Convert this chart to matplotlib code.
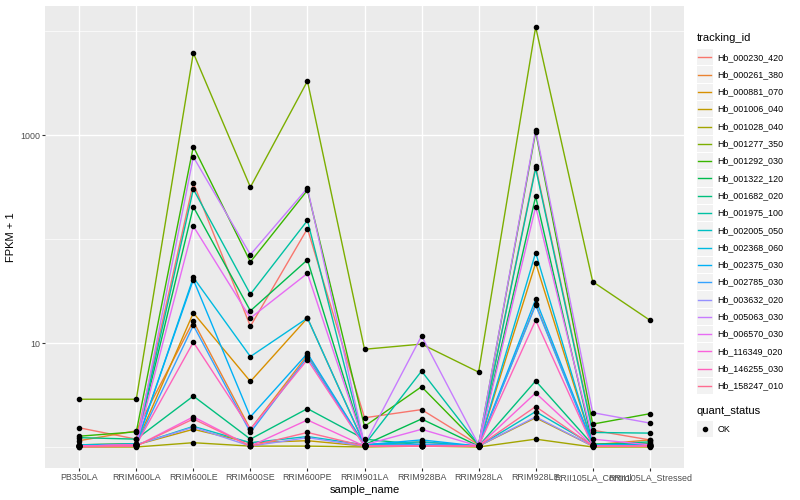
import matplotlib
matplotlib.use("Agg")
import matplotlib.pyplot as plt
from matplotlib.patches import Rectangle
import numpy as np

plt.rcParams["font.family"] = ["Liberation Sans", "DejaVu Sans"]

# samples on the x axis
sample_name = ["PB350LA", "RRIM600LA", "RRIM600LE", "RRIM600SE", "RRIM600PE",
               "RRIM901LA", "RRIM928BA", "RRIM928LA", "RRIM928LE",
               "RRII105LA_Control", "RRII105LA_Stressed"]

tracking_id = ["Hb_000230_420", "Hb_000261_380", "Hb_000881_070", "Hb_001006_040",
               "Hb_001028_040", "Hb_001277_350", "Hb_001292_030", "Hb_001322_120",
               "Hb_001682_020", "Hb_001975_100", "Hb_002005_050", "Hb_002368_060",
               "Hb_002375_030", "Hb_002785_030", "Hb_003632_020", "Hb_005063_030",
               "Hb_006570_030", "Hb_116349_020", "Hb_146255_030", "Hb_158247_010"]

# FPKM + 1 (same order as sample_name)
hb_000230_420 = [1.53, 1.19, 347, 14.5, 126, 1.91, 2.29, 1.05, 501, 1.45, 1.17]
hb_000261_380 = [1.15, 1.43, 16.2, 1.48, 7.67, 1.05, 1.12, 1.02, 23.7, 1.05, 1.17]
hb_000881_070 = [1.05, 1.07, 19.5, 4.27, 17.4, 1.05, 1.02, 1.02, 58.9, 1.05, 1.07]
hb_001006_040 = [1.02, 1.05, 1.48, 1.10, 1.15, 1.02, 1.02, 1.02, 1.91, 1.02, 1.05]
hb_001028_040 = [1.00, 1.00, 1.10, 1.02, 1.02, 1.00, 1.02, 1.00, 1.19, 1.00, 1.00]
hb_001277_350 = [2.88, 2.88, 6170, 316, 3310, 8.71, 9.77, 5.25, 10960, 38.9, 16.6]
hb_001292_030 = [1.27, 1.40, 776, 60.3, 295, 1.58, 3.80, 1.05, 1072, 1.66, 2.09]
hb_001322_120 = [1.05, 1.07, 204, 20.4, 63.1, 1.05, 1.86, 1.02, 257, 1.07, 1.07]
hb_001682_020 = [1.23, 1.19, 3.09, 1.19, 2.34, 1.19, 1.05, 1.02, 4.32, 1.05, 1.12]
hb_001975_100 = [1.05, 1.07, 302, 29.5, 151, 1.05, 5.37, 1.05, 479, 1.38, 1.36]
hb_002005_050 = [1.02, 1.05, 1.58, 1.10, 1.26, 1.05, 1.12, 1.02, 2.19, 1.05, 1.05]
hb_002368_060 = [1.05, 1.05, 42.7, 7.41, 17.4, 1.05, 1.05, 1.02, 74.1, 1.05, 1.02]
hb_002375_030 = [1.02, 1.07, 40.7, 1.95, 7.94, 1.05, 1.17, 1.02, 26.3, 1.05, 1.05]
hb_002785_030 = [1.02, 1.05, 14.8, 1.38, 7.33, 1.02, 1.07, 1.02, 23.2, 1.02, 1.02]
hb_003632_020 = [1.02, 1.05, 1.55, 1.02, 1.23, 1.02, 1.02, 1.02, 1.95, 1.02, 1.02]
hb_005063_030 = [1.02, 1.05, 617, 70.8, 309, 1.05, 11.7, 1.05, 1122, 2.14, 1.70]
hb_006570_030 = [1.02, 1.05, 133, 17.4, 46.8, 1.05, 1.48, 1.02, 204, 1.19, 1.05]
hb_116349_020 = [1.02, 1.02, 1.95, 1.02, 1.82, 1.02, 1.02, 1.02, 3.31, 1.02, 1.02]
hb_146255_030 = [1.02, 1.05, 10.2, 1.48, 6.92, 1.02, 1.02, 1.02, 16.6, 1.02, 1.02]
hb_158247_010 = [1.00, 1.02, 1.86, 1.02, 1.38, 1.02, 1.02, 1.02, 2.45, 1.02, 1.02]

series = [hb_000230_420, hb_000261_380, hb_000881_070, hb_001006_040, hb_001028_040,
          hb_001277_350, hb_001292_030, hb_001322_120, hb_001682_020, hb_001975_100,
          hb_002005_050, hb_002368_060, hb_002375_030, hb_002785_030, hb_003632_020,
          hb_005063_030, hb_006570_030, hb_116349_020, hb_146255_030, hb_158247_010]

# ggplot2 default hue palette for 20 levels
colors = ["#F8766D", "#EA8331", "#D89000", "#C09B00", "#A3A500", "#7CAE00", "#39B600",
          "#00BB4E", "#00BF7D", "#00C1A3", "#00BFC4", "#00BAE0", "#00B0F6", "#35A2FF",
          "#9590FF", "#C77CFF", "#E76BF3", "#FA62DB", "#FF62BC", "#FF6C91"]

W, H = 800, 500
fig = plt.figure(figsize=(8, 5), dpi=100)
ax = fig.add_axes([45 / W, 1 - 468 / H, (684 - 45) / W, (468 - 6) / H])
ax.set_facecolor("#EBEBEB")

x = np.arange(len(sample_name))
for vals, col in zip(series, colors):
    ax.plot(x, vals, color=col, lw=1.0, zorder=3)
for vals in series:
    ax.plot(x, vals, "o", color="black", ms=3.0, zorder=4)

ax.set_yscale("log")
allv = np.log10(np.concatenate([np.asarray(s, float) for s in series]))
lo, hi = allv.min(), allv.max()
pad = 0.05 * (hi - lo)
ax.set_ylim(10 ** (lo - pad), 10 ** (hi + pad))
ax.set_xlim(-0.6, len(sample_name) - 0.4)

ax.set_yticks([10, 1000])
ax.set_yticklabels(["10", "1000"])
ax.set_yticks([1, 100, 10000], minor=True)
ax.yaxis.set_minor_formatter(matplotlib.ticker.NullFormatter())
ax.set_xticks(x)
ax.set_xticklabels(sample_name)

ax.grid(True, which="major", color="white", lw=1.0, zorder=0)
ax.grid(True, which="minor", axis="y", color="white", lw=0.5, zorder=0)
ax.set_axisbelow(True)
for sp in ax.spines.values():
    sp.set_visible(False)
ax.tick_params(axis="both", which="major", length=2.0, width=0.8, color="#333333",
               labelsize=6.4, labelcolor="#4D4D4D", pad=1.5)
ax.tick_params(axis="y", which="minor", length=0)

ax.set_xlabel("sample_name", fontsize=8, labelpad=2)
ax.set_ylabel("FPKM + 1", fontsize=8, labelpad=3)

# legend drawn in pixel coordinates, ggplot style
lg = fig.add_axes([0, 0, 1, 1])
lg.set_xlim(0, W)
lg.set_ylim(H, 0)
lg.axis("off")
lg.patch.set_alpha(0)

key = 17.3
kx = 696.5
lg.text(kx, 38, "tracking_id", fontsize=8, va="center", ha="left")
for i, (name, col) in enumerate(zip(tracking_id, colors)):
    yc = 57.3 + i * key
    lg.add_patch(Rectangle((kx, yc - key / 2 + 0.5), key - 1, key - 1,
                           facecolor="#F2F2F2", edgecolor="none"))
    lg.plot([kx + 1.5, kx + key - 2.5], [yc, yc], color=col, lw=1.0)
    lg.text(kx + key + 3.5, yc, name, fontsize=6.4, va="center", ha="left")

lg.text(kx, 411, "quant_status", fontsize=8, va="center", ha="left")
yc = 429
lg.add_patch(Rectangle((kx, yc - key / 2 + 0.5), key - 1, key - 1,
                       facecolor="#F2F2F2", edgecolor="none"))
lg.plot([kx + key / 2 - 0.5], [yc], "o", color="black", ms=3.0)
lg.text(kx + key + 3.5, yc, "OK", fontsize=6.4, va="center", ha="left")

fig.savefig("out.png", dpi=100, facecolor="white")
